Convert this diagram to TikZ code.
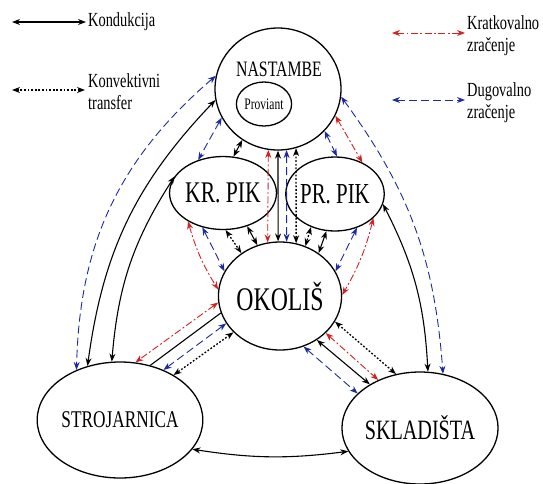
\documentclass[tikz,border=0pt]{standalone}
\usepackage{fontspec}
\setmainfont{Liberation Serif}[FakeStretch=0.72]
\usetikzlibrary{arrows.meta, shapes.geometric}
\definecolor{kv-red}{HTML}{D42020}
\definecolor{dv-blue}{HTML}{1C2A9E}

\begin{document}
\begin{tikzpicture}[x=1pt, y=-1pt,
    >={Stealth[length=8pt, width=6pt]},
    zone/.style={ellipse, draw, line width=1.3pt, inner sep=0pt},
    kond/.style={<->, black, line width=1.1pt},
    konv/.style={<->, black, line width=1.3pt, dash pattern=on 1.8pt off 1.8pt},
    kratko/.style={<->, kv-red, line width=0.9pt, dash pattern=on 7pt off 2.5pt on 1.8pt off 2.5pt},
    dugo/.style={<->, dv-blue, line width=0.9pt, dash pattern=on 8pt off 4pt},
    legtext/.style={anchor=west, align=left, inner sep=0pt, font=\fontsize{20}{22}\selectfont}]
    \useasboundingbox (0,0) rectangle (543,483);

    % legenda
    \coordinate (kondA) at (12,22);  \coordinate (kondB) at (86,22);
    \coordinate (konvA) at (12,90);  \coordinate (konvB) at (85,90);
    \coordinate (kratA) at (392,33); \coordinate (kratB) at (465,33);
    \coordinate (dugoA) at (392,100); \coordinate (dugoB) at (465,100);
    \draw[kond] (kondA) -- (kondB);
    \draw[konv] (konvA) -- (konvB);
    \draw[kratko] (kratA) -- (kratB);
    \draw[dugo] (dugoA) -- (dugoB);
    \node[legtext] (kondtxt) at (88,22) {Kondukcija};
    \node[legtext] (konvtxt) at (88,92) {Konvektivni\\transfer};
    \node[legtext] (krattxt) at (467,36) {Kratkovalno\\zračenje};
    \node[legtext] (dugotxt) at (467,103) {Dugovalno\\zračenje};

    % prostori
    \node[zone, minimum width=126pt, minimum height=122pt] (nastambe) at (278,89) {};
    \node[font=\fontsize{22}{22}\selectfont] (nastambetxt) at (279,69) {NASTAMBE};
    \node[zone, minimum width=50pt, minimum height=44pt,
          font=\fontsize{16}{16}\selectfont] (proviant) at (264,104) {Proviant};
    \node[zone, minimum width=75pt, minimum height=73pt,
          font=\fontsize{30}{30}\selectfont] (krpik) at (223,193) {KR. PIK};
    \node[zone, minimum width=75pt, minimum height=74pt,
          font=\fontsize{29}{29}\selectfont] (prpik) at (335,194) {PR. PIK};
    \node[zone, minimum width=114pt, minimum height=108pt,
          font=\fontsize{33}{33}\selectfont] (okolis) at (280,296) {OKOLIŠ};
    \node[zone, minimum width=126pt, minimum height=116pt,
          font=\fontsize{24}{24}\selectfont] (strojarnica) at (120,420) {STROJARNICA};
    \node[zone, minimum width=124pt, minimum height=112pt,
          font=\fontsize{28}{28}\selectfont] (skladista) at (420,428) {SKLADIŠTA};

    % vanjski lukovi
    \draw[dugo] (nastambe.168) to[bend right=24] (strojarnica.131);
    \draw[kond] (nastambe.190) to[bend right=18] (strojarnica.121);
    \draw[kond] (krpik.161) to[bend right=14] (strojarnica.98);
    \draw[dugo] (nastambe.353) to[bend left=16] (skladista.67);
    \draw[kond] (prpik.348) to[bend left=12] (skladista.82);

    % nastambe - pikovi
    \draw[dugo] (nastambe.207) -- (krpik.127);
    \draw[kond] (nastambe.235) -- (krpik.74);
    \draw[dugo] (nastambe.318) -- (prpik.87);
    \draw[kratko] (nastambe.335) -- (prpik.49);

    % nastambe - okolis
    \draw[kratko] (nastambe.261) -- (okolis.103);
    \draw[kond] (nastambe.270) -- (okolis.92);
    \draw[dugo] (nastambe.278) -- (okolis.83);
    \draw[konv] (nastambe.287) -- (okolis.73);

    % pikovi - okolis
    \draw[kratko] (krpik.219) to[bend right=8] (okolis.174);
    \draw[dugo] (krpik.239) -- (okolis.156);
    \draw[konv] (krpik.274) -- (okolis.132);
    \draw[kond] (krpik.306) -- (okolis.114);
    \draw[konv] (prpik.234) -- (okolis.63);
    \draw[kond] (prpik.257) -- (okolis.48);
    \draw[dugo] (prpik.303) -- (okolis.24);
    \draw[kratko] (prpik.328) to[bend left=8] (okolis.1);

    % okolis - strojarnica
    \draw[kratko] (okolis.186) -- (strojarnica.75);
    \draw[black, line width=1.1pt] (okolis.196) -- (strojarnica.61);
    \draw[dugo] (okolis.207) -- (strojarnica.49);
    \draw[konv] (okolis.218) -- (strojarnica.40);

    % okolis - skladista
    \draw[konv] (okolis.335) -- (skladista.114);
    \draw[kratko] (okolis.321) -- (skladista.131);
    \draw[kond] (okolis.310) -- (skladista.139);
    \draw[dugo] (okolis.295) -- (skladista.151);

    % strojarnica - skladista
    \draw[kond] (strojarnica.338) to[bend right=8] (skladista.198);
\end{tikzpicture}
\end{document}
